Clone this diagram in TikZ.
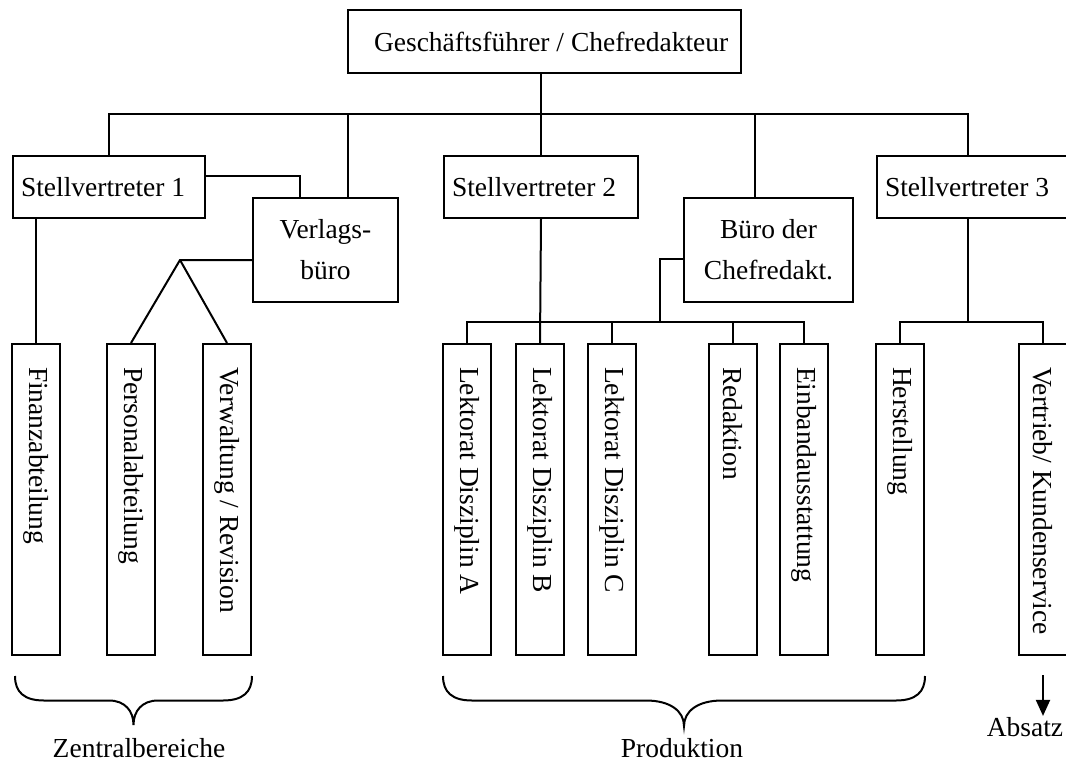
\documentclass[tikz,border=0pt]{standalone}
\usepackage{fontspec}
\setmainfont{Liberation Serif}
\usetikzlibrary{arrows.meta}
\newcommand{\links}[2]{\hbox to #1{#2\hss}}

\begin{document}
\begin{tikzpicture}[x=1pt, y=-1pt, line width=2pt,
    font=\fontsize{27.5}{41}\selectfont,
    box/.style={draw, rectangle, inner ysep=0pt},
    stv/.style={box, anchor=north west, minimum height=62pt, inner xsep=8pt},
    buero/.style={box, anchor=north west, minimum height=104pt, align=center},
    abt/.style={box, rotate=-90, anchor=west, minimum height=48pt, inner xsep=23pt},
    bereich/.style={anchor=base, inner sep=0pt}]
        \useasboundingbox (0,0) rectangle (1066,763);
        \clip (0,0) rectangle (1066,763);

        % Leitung und Stellvertreter
        \node[box, anchor=north west, minimum height=63pt, inner xsep=26pt] (gf) at (347,9) {\links{341pt}{Geschäftsführer / Chefredakteur}};
        \node[stv] (stv1) at (12,155) {\links{176pt}{Stellvertreter 1}};
        \node[stv] (stv2) at (443,155) {\links{178pt}{Stellvertreter 2}};
        \node[stv] (stv3) at (876,155) {\links{200pt}{Stellvertreter 3}};
        \node[buero, minimum width=145pt] (vb) at (252,197) {Verlags-\\büro};
        \node[buero, minimum width=169pt] (bc) at (683,197) {Büro der\\Chefredakt.};

        % Abteilungen
        \node[abt] (fin) at (36,343) {\links{265pt}{Finanzabteilung}};
        \node[abt] (pers) at (131,343) {\links{265pt}{Personalabteilung}};
        \node[abt] (verw) at (227,343) {\links{265pt}{Verwaltung / Revision}};
        \node[abt] (lekA) at (467,343) {\links{265pt}{Lektorat Disziplin A}};
        \node[abt] (lekB) at (540,343) {\links{265pt}{Lektorat Disziplin B}};
        \node[abt] (lekC) at (612,343) {\links{265pt}{Lektorat Disziplin C}};
        \node[abt] (red) at (733,343) {\links{265pt}{Redaktion}};
        \node[abt] (einb) at (804,343) {\links{265pt}{Einbandausstattung}};
        \node[abt] (herst) at (900,343) {\links{265pt}{Herstellung}};
        \node[abt] (vertr) at (1043,343) {\links{265pt}{Vertrieb/ Kundenservice}};

        % Hilfspunkte
        \coordinate (bus) at (0,114);
        \coordinate (bus2) at (0,322);
        \coordinate (stv3top) at (968,155);
        \coordinate (vbtop) at (348,197);
        \coordinate (bctop) at (755,197);
        \coordinate (k1) at (300,176);
        \coordinate (k2) at (660,259);
        \coordinate (gabel) at (180,260);
        \coordinate (pf) at (1043,675);

        % Verbindungen oben
        \draw (stv1.north) |- (stv3top |- bus) -- (stv3top);
        \draw (gf.south -| stv2.north) -- (stv2.north);
        \draw (vbtop) -- (vbtop |- bus);
        \draw (bctop) -- (bctop |- bus);
        \draw (k1 -| stv1.east) -- (k1) -- (k1 |- vb.north);

        % Zentralbereiche
        \draw (fin.west |- stv1.south) -- (fin.west);
        \draw (gabel -| vb.west) -- (gabel) -- (pers.west);
        \draw (gabel) -- (verw.west);

        % Produktion
        \draw (stv2.south) -- (lekB.west);
        \draw (lekA.west) |- (einb.west |- bus2) -- (einb.west);
        \draw (lekC.west) -- (lekC.west |- bus2);
        \draw (red.west) -- (red.west |- bus2);
        \draw (k2 -| bc.west) -- (k2) -- (k2 |- bus2);

        % Absatz
        \draw (stv3top |- stv3.south) -- (stv3top |- bus2);
        \draw (herst.west) |- (vertr.west |- bus2) -- (vertr.west);

        % Klammern
        \draw (15,676) .. controls (15,692) and (24,700.5) .. (44,700.5) -- (109,700.5)
              .. controls (125,700.5) and (133.5,711) .. (133.5,725)
              .. controls (133.5,711) and (142,700.5) .. (158,700.5) -- (223,700.5)
              .. controls (243,700.5) and (252,692) .. (252,676);
        \draw (443,676) .. controls (443,692) and (452,700.5) .. (472,700.5) -- (646,700.5)
              .. controls (670,700.5) and (684,711) .. (684,726)
              .. controls (684,711) and (698,700.5) .. (722,700.5) -- (896,700.5)
              .. controls (916,700.5) and (925,692) .. (925,676);

        \node[bereich] (zb) at (139,757) {Zentralbereiche};
        \node[bereich] (prod) at (682,757) {Produktion};
        \node[bereich] (abs) at (1025,736) {Absatz};
        \draw[-{Triangle[width=14pt,length=16pt]}] (pf) -- (pf |- abs.north);
\end{tikzpicture}
\end{document}
